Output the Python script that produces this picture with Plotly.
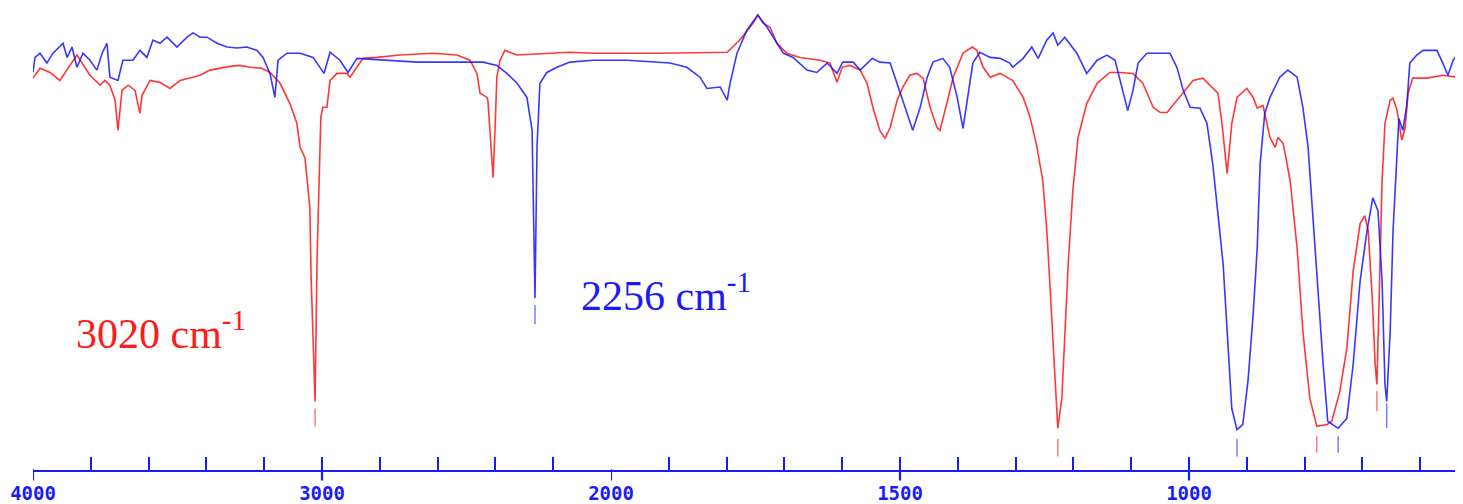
import plotly.graph_objects as go

# ---------------- data (wavenumber cm-1, transmittance %) ----------------
red_wn = [4000, 3976, 3941, 3907, 3872, 3848, 3803, 3768, 3751, 3734, 3716, 3706, 3692, 3671, 3647,
          3630, 3623, 3595, 3561, 3526, 3491, 3457, 3422, 3388, 3353, 3318, 3284, 3249, 3208, 3180,
          3145, 3111, 3087, 3076, 3059, 3052, 3042, 3038, 3031, 3024, 3017, 3010, 3004, 2997, 2983,
          2979, 2972, 2948, 2914, 2903, 2879, 2858, 2810, 2730, 2616, 2533, 2488, 2464, 2453, 2429,
          2426, 2419, 2408, 2401, 2395, 2384, 2367, 2325, 2211, 2142, 2062, 2000,
          1915, 1799, 1777, 1754, 1746, 1737, 1725, 1713, 1696, 1673, 1638, 1621, 1609, 1600, 1587,
          1569, 1557, 1547, 1535, 1526, 1517, 1505, 1495, 1483, 1471, 1460, 1448, 1436, 1431, 1419,
          1408, 1391, 1375, 1367, 1356, 1344, 1327, 1305, 1287, 1275, 1263, 1253, 1246, 1241, 1235,
          1227, 1220, 1215, 1209, 1201, 1192, 1177, 1159, 1137, 1119, 1097, 1080, 1062, 1050, 1038,
          1028, 1010, 993, 976, 959, 950, 943, 934, 926, 917, 900, 889, 882, 872, 860, 851, 846, 837,
          825, 813, 803, 791, 779, 761, 753, 739, 727, 716, 704, 696, 690, 683, 678, 675, 671, 666,
          661, 652, 647, 640, 632, 626, 621, 613, 588, 561, 536, 526]
red_t = [83.4, 85.5, 84.6, 82.9, 86.1, 88.3, 84.0, 81.9, 82.9, 81.9, 78.7, 72.3, 80.8, 81.9, 80.8,
         75.9, 79.7, 82.9, 82.5, 81.2, 82.9, 83.4, 84.0, 85.1, 85.5, 85.9, 86.1, 85.7, 85.5, 84.6,
         82.3, 78.0, 73.8, 68.7, 66.5, 61.6, 55.9, 41.8, 27.5, 14.7, 45.2, 65.2, 75.1, 77.2, 77.2,
         79.3, 82.9, 84.4, 84.4, 83.6, 85.7, 87.6, 87.8, 88.3, 88.7, 88.3, 87.2, 84.4, 80.2, 79.3,
         78.7, 71.6, 62.3, 72.9, 83.6, 87.2, 89.3, 88.3, 88.7, 88.9, 88.7, 88.7,
         88.7, 88.9, 91.5, 95.1, 96.8, 95.1, 94.2, 90.8, 88.7, 87.8, 87.2, 86.6, 82.5, 85.7, 86.1,
         85.1, 82.3, 77.2, 72.3, 70.6, 72.9, 78.7, 81.5, 84.0, 84.4, 83.4, 77.2, 72.9, 72.3, 78.0,
         83.6, 88.7, 90.0, 89.3, 85.7, 83.6, 84.4, 82.9, 79.3, 75.1, 68.7, 61.6, 51.0, 40.3, 26.0,
         9.0, 15.4, 29.6, 43.9, 59.5, 70.8, 78.0, 82.3, 84.6, 84.6, 84.4, 82.3, 77.2, 76.1, 76.1,
         77.6, 80.2, 82.9, 83.4, 81.2, 80.2, 73.8, 63.1, 73.8, 79.3, 81.2, 79.3, 77.0, 77.6, 70.8,
         68.7, 70.8, 69.5,
         61.6, 47.3, 29.6, 15.4, 9.4, 9.8, 10.5, 16.9, 26.0, 42.4, 52.5, 54.2, 51.0, 36.7, 22.6,
         18.3, 36.7, 61.6, 73.8, 78.7, 79.1, 76.5, 70.2, 72.9, 80.2, 83.4, 83.4, 84.0, 83.6, 82.5]

blue_wn = [4000, 3993, 3976, 3952, 3931, 3896, 3882, 3865, 3848, 3827, 3803, 3779, 3761, 3744, 3734,
           3706, 3689, 3654, 3630, 3606, 3585, 3561, 3536, 3502, 3467, 3446, 3422, 3398, 3363, 3329,
           3294, 3260, 3225, 3204, 3180, 3163, 3152, 3121, 3076, 3031, 2993, 2972, 2938, 2910, 2879,
           2789, 2671, 2557, 2443, 2395, 2360, 2325, 2291, 2273, 2270, 2263, 2256, 2246, 2222, 2187,
           2142, 2062, 2000,
           1972, 1898, 1869, 1846, 1834, 1811, 1799, 1794, 1782, 1765, 1746, 1730, 1713, 1702, 1685,
           1661, 1644, 1626, 1609, 1599, 1581, 1569, 1548, 1535, 1517, 1505, 1495, 1486, 1478, 1465,
           1453, 1443, 1426, 1414, 1401, 1391, 1382, 1374, 1362, 1344, 1327, 1310, 1305, 1287, 1272,
           1261, 1246, 1235, 1227, 1215, 1194, 1177, 1159, 1142, 1128, 1116, 1106, 1097, 1088, 1073,
           1033, 1021, 1010, 998, 981, 969, 959, 950, 941, 934, 926, 917, 907, 898, 889, 882, 877,
           869, 860, 843, 829, 813, 803, 794, 786, 777, 768, 760, 742, 727, 716, 704, 692, 682, 673,
           666, 661, 658, 652, 647, 640, 637, 630, 623, 618, 606, 595, 571, 561, 552, 543, 531, 526]
blue_t = [84.6, 87.8, 88.7, 86.6, 88.7, 90.8, 87.8, 90.0, 85.7, 88.7, 87.2, 85.1, 88.7, 90.8, 83.6,
          82.9, 87.2, 87.2, 89.3, 87.8, 91.5, 90.8, 92.1, 90.0, 92.1, 93.0, 92.1, 92.1, 90.8, 90.0,
          89.8, 90.0, 89.3, 87.8, 84.4, 79.3, 87.2, 88.7, 88.7, 87.8, 84.4, 88.9, 87.2, 84.6, 87.6,
          87.2, 86.8, 86.8, 86.8, 86.1, 84.4, 82.3, 79.3, 72.3, 58.9, 36.7, 68.7, 82.3, 84.6, 85.7,
          86.8, 87.2, 87.2,
          87.2, 86.6, 85.7, 83.6, 81.2, 81.5, 78.7, 82.3, 88.7, 93.6, 96.8, 94.2, 90.8, 88.7, 87.8,
          85.1, 84.6, 86.6, 84.4, 86.8, 86.8, 85.1, 87.6, 86.8, 86.6, 82.3, 78.7, 75.1, 72.3, 77.2,
          83.6, 86.8, 87.6, 85.7, 79.3, 72.7, 80.2, 86.6, 88.9, 87.8, 87.6, 86.6, 85.7, 87.6, 90.0,
          87.6, 91.5, 93.0, 90.4, 92.1, 88.7, 84.4, 87.2, 88.3, 87.2, 81.5, 76.5, 80.8, 86.6, 88.7,
          88.7, 85.7, 80.8, 77.2, 77.0, 73.8, 65.2, 54.6, 43.9, 29.6, 13.2, 8.7, 9.8, 19.0, 33.3, 47.3, 65.2,
          75.9, 79.3, 83.6, 85.1, 83.6, 77.2, 68.7, 54.6, 36.7, 22.6, 10.5, 9.0, 11.1, 22.6, 40.3, 51.0, 58.0, 55.2,
          40.3, 18.3, 14.7, 29.6, 51.0, 68.7, 74.8, 72.3, 78.0, 86.6, 88.3, 89.3, 89.3, 86.6, 84.0, 87.2, 89.3, 89.3]

# peak marker dashes: wavenumber, top %T, bottom %T
red_peak_wn = [3024, 1227, 779, 675]
red_peak_top = [13.2, 6.8, 7.3, 16.9]
red_peak_bot = [9.4, 3.0, 3.8, 12.6]
blue_peak_wn = [2263, 917, 742, 658]
blue_peak_top = [35.2, 6.8, 7.3, 14.3]
blue_peak_bot = [31.1, 3.0, 3.8, 9.0]

label_texts = ["3020 cm<sup>-1</sup>", "2256 cm<sup>-1</sup>"]
label_wn = [3557, 1905]
label_t = [29.8, 37.9]

left_ticks = [4000, 3800, 3600, 3400, 3200, 3000, 2800, 2600, 2400, 2200]
right_ticks = [2000, 1900, 1800, 1700, 1600, 1500, 1400, 1300, 1200, 1100, 1000, 900, 800, 700, 600]
major_ticks = [4000, 3000, 2000, 1500, 1000]
major_labels = {4000: "4000", 3000: "3000", 2000: "2000", 1500: "1500", 1000: "1000"}

SPLIT = 2000
X_MIN = 526
T_TOP = 98.3       # %T at the top edge of the plot
T_BOTTOM = -2.2    # %T at the lower end of the major tick marks (below the axis line)
T_AXIS = 0.0       # %T where the axis line sits

RED = "rgba(255,20,20,0.85)"
BLUE = "rgba(20,20,255,0.85)"
RED_DASH = "rgba(255,90,90,0.8)"
BLUE_DASH = "rgba(90,90,255,0.8)"
AXIS = "#1a1aff"

fig = go.Figure()


def axis_for(w):
    return "x" if w > SPLIT else "x2"


for wn, t, col in [(red_wn, red_t, RED), (blue_wn, blue_t, BLUE)]:
    lx = [w for w in wn if w >= SPLIT]
    ly = [v for w, v in zip(wn, t) if w >= SPLIT]
    rx = [w for w in wn if w <= SPLIT]
    ry = [v for w, v in zip(wn, t) if w <= SPLIT]
    fig.add_trace(go.Scatter(x=lx, y=ly, mode="lines", line=dict(color=col, width=1.6),
                             xaxis="x", yaxis="y", showlegend=False, hoverinfo="skip"))
    fig.add_trace(go.Scatter(x=rx, y=ry, mode="lines", line=dict(color=col, width=1.6),
                             xaxis="x2", yaxis="y", showlegend=False, hoverinfo="skip"))

for wns, tops, bots, col in [(red_peak_wn, red_peak_top, red_peak_bot, RED_DASH),
                             (blue_peak_wn, blue_peak_top, blue_peak_bot, BLUE_DASH)]:
    for w, a, b in zip(wns, tops, bots):
        fig.add_trace(go.Scatter(x=[w, w], y=[a, b], mode="lines", line=dict(color=col, width=1.5),
                                 xaxis=axis_for(w), yaxis="y", showlegend=False, hoverinfo="skip"))

# lower part of the major tick marks (crossing below the axis line)
maj_left = [w for w in major_ticks if w > SPLIT]
maj_right = [w for w in major_ticks if w <= SPLIT]
for ws, ax in [(maj_left, "x"), (maj_right, "x2")]:
    xs, ys = [], []
    for w in ws:
        xs += [w, w, None]
        ys += [T_AXIS + 0.3, T_BOTTOM + 0.1, None]
    fig.add_trace(go.Scatter(x=xs, y=ys, mode="lines", line=dict(color=AXIS, width=2.2),
                             connectgaps=False, cliponaxis=False,
                             xaxis=ax, yaxis="y", showlegend=False, hoverinfo="skip"))

for txt, w, v, col in zip(label_texts, label_wn, label_t, ["#ff1a1a", "#1a1aff"]):
    fig.add_annotation(text=txt, x=w, y=v, xref=axis_for(w), yref="y", showarrow=False,
                       font=dict(family="Liberation Serif", size=42, color=col),
                       xanchor="center", yanchor="middle")

axis_pos = (T_AXIS - T_BOTTOM) / (T_TOP - T_BOTTOM)
common = dict(ticks="inside", ticklen=13, tickwidth=2, tickcolor=AXIS, showline=True,
              linecolor=AXIS, linewidth=2, showgrid=False, zeroline=False,
              anchor="free", position=axis_pos, layer="below traces",
              tickmode="array", ticklabelstandoff=6,
              tickfont=dict(family="DejaVu Sans Mono", size=19, color=AXIS, weight="bold"))

frac = 578 / 1430
fig.update_layout(
    width=1455, height=496,
    margin=dict(l=25, r=0, t=0, b=23, autoexpand=False),
    paper_bgcolor="white", plot_bgcolor="white",
    xaxis=dict(domain=[0, frac], range=[4000, SPLIT], tickvals=left_ticks,
               ticktext=[major_labels.get(v, "") for v in left_ticks], **common),
    xaxis2=dict(domain=[frac, 1], range=[SPLIT, X_MIN], tickvals=right_ticks,
                ticktext=[major_labels.get(v, "") for v in right_ticks], **common),
    yaxis=dict(range=[T_BOTTOM, T_TOP], visible=False, showgrid=False, zeroline=False),
)

fig.write_html("out.html")
